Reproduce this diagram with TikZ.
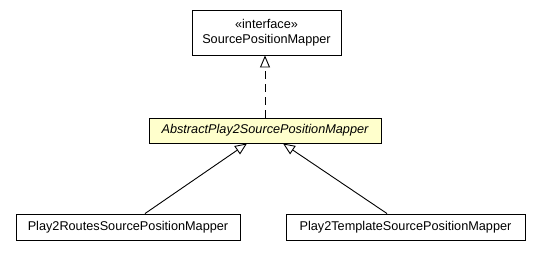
\documentclass[tikz,border=0pt]{standalone}
\usepackage{fontspec}
\setmainfont{Liberation Sans}
\usetikzlibrary{arrows.meta}
\definecolor{abstractfill}{HTML}{FFFFCC}

\begin{document}
\begin{tikzpicture}[x=1pt, y=-1pt,
    classbox/.style={draw=black, line width=0.9pt, fill=white, inner sep=0pt,
        font=\fontsize{12.7}{15}\selectfont, align=center},
    realize/.style={line width=0.9pt, -{Triangle[open, length=12pt, width=10pt]}}]
    \useasboundingbox (0,0) rectangle (538,256);

    % Class Boxes
    \node[classbox, minimum width=149, minimum height=45] (iface) at (266.5, 32.5)
        {\guillemotleft interface\guillemotright\\SourcePositionMapper};
    \node[classbox, fill=abstractfill, minimum width=232, minimum height=25] (abstract) at (265, 130.5)
        {\itshape AbstractPlay2SourcePositionMapper};
    \node[classbox, minimum width=224, minimum height=26] (routes) at (128, 227)
        {Play2RoutesSourcePositionMapper};
    \node[classbox, minimum width=239, minimum height=26] (template) at (405.5, 227)
        {Play2TemplateSourcePositionMapper};

    % Implementation and Inheritance
    \draw[realize, dash pattern=on 8pt off 5pt] (abstract.north) -- (abstract.north |- iface.south);
    \draw[realize] ([xshift=17pt]routes.north) -- ([xshift=-18pt]abstract.south);
    \draw[realize] ([xshift=-18.5pt]template.north) -- ([xshift=18pt]abstract.south);
\end{tikzpicture}
\end{document}
